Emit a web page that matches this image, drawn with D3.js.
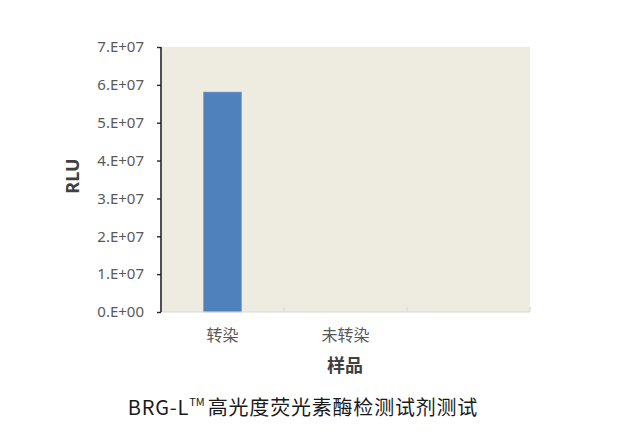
<!DOCTYPE html>
<html>
<head>
<meta charset="utf-8">
<script src="https://cdn.jsdelivr.net/npm/d3@7"></script>
<style>
  body { margin: 0; background: #fff; }
  text { font-family: "Noto Sans CJK SC", "Noto Sans", sans-serif; }
</style>
</head>
<body>
<svg id="chart"></svg>
<script>
let width = 618,
  height = 438;

// Data
const categories = ["转染", "未转染", ""];
const values = [5.81e7, 0, 0];
const yTicks = [0, 1e7, 2e7, 3e7, 4e7, 5e7, 6e7, 7e7];
const yTickLabels = ["0.E+00", "1.E+07", "2.E+07", "3.E+07", "4.E+07", "5.E+07", "6.E+07", "7.E+07"];

const margin = { left: 161, right: 88, top: 47, bottom: 126 };
const innerW = width - margin.left - margin.right;
const innerH = height - margin.top - margin.bottom;

let svg = d3.select("#chart").attr("width", width).attr("height", height);
let g = svg.append("g").attr("transform", `translate(${margin.left},${margin.top})`);

// Scales
const x = d3.scaleBand().domain(categories.map((d, i) => i)).range([0, innerW]).padding(0);
const y = d3.scaleLinear().domain([0, 7e7]).range([innerH, 0]);

// Plot background
g.append("rect")
  .attr("width", innerW)
  .attr("height", innerH)
  .attr("fill", "#eeebe0");

// Bars
g.selectAll(".bar")
  .data(values)
  .enter()
  .append("rect")
  .attr("class", "bar")
  .attr("x", (d, i) => x(i) + x.bandwidth() * 0.345)
  .attr("width", x.bandwidth() * 0.31)
  .attr("y", (d) => y(d))
  .attr("height", (d) => innerH - y(d))
  .attr("fill", (d) => (d > 0 ? "#4f81bd" : "none"))
  .attr("stroke", (d) => (d > 0 ? "#7ea3d1" : "none"))
  .attr("stroke-width", 0.6);

// X axis: light line with tick marks at band edges
let xAxis = g.append("g").attr("transform", `translate(0,${innerH})`);
xAxis.append("line")
  .attr("x1", 0).attr("x2", innerW)
  .attr("stroke", "#d9d9d9").attr("stroke-width", 1.2);
xAxis.selectAll(".xtick")
  .data(categories)
  .enter()
  .append("line")
  .attr("x1", (d, i) => x(i) + x.bandwidth())
  .attr("x2", (d, i) => x(i) + x.bandwidth())
  .attr("y1", 0).attr("y2", -5)
  .attr("stroke", "#d9d9d9").attr("stroke-width", 1.2);
xAxis.selectAll(".xlabel")
  .data(categories)
  .enter()
  .append("text")
  .attr("x", (d, i) => x(i) + x.bandwidth() / 2)
  .attr("y", 29)
  .attr("text-anchor", "middle")
  .attr("fill", "#595959")
  .style("font-size", "16px")
  .text((d) => d);

// Y axis
let yAxis = g.append("g")
  .call(d3.axisLeft(y).tickValues(yTicks).tickFormat((d, i) => yTickLabels[i]).tickSize(4).tickPadding(13));
yAxis.select(".domain").attr("stroke", "#262626").attr("stroke-width", 1.6).attr("d", `M0,0V${innerH}`);
yAxis.selectAll(".tick line").attr("stroke", "#262626").attr("stroke-width", 1.4);
yAxis.selectAll(".tick text")
  .attr("fill", "#595959")
  .style("font-family", "'Noto Sans', sans-serif")
  .style("font-size", "15px");

// Axis titles
svg.append("text")
  .attr("transform", `translate(79,176) rotate(-90)`)
  .attr("text-anchor", "middle")
  .attr("fill", "#404040")
  .style("font-weight", "bold")
  .style("font-family", "'Noto Sans', sans-serif")
  .style("font-size", "18px")
  .text("RLU");

svg.append("text")
  .attr("x", 345)
  .attr("y", 372)
  .attr("text-anchor", "middle")
  .attr("fill", "#404040")
  .style("font-weight", "bold")
  .style("font-size", "18px")
  .text("样品");

// Caption
let caption = svg.append("text")
  .attr("x", 303)
  .attr("y", 415)
  .attr("text-anchor", "middle")
  .attr("fill", "#1a1a1a")
  .style("font-size", "20px")
  .style("letter-spacing", "0.8px");
caption.append("tspan").text("BRG-L");
caption.append("tspan").attr("dy", -9).style("font-size", "11px").style("letter-spacing", "0px").text("TM");
caption.append("tspan").attr("dy", 9).attr("dx", 3).text("高光度荧光素酶检测试剂测试");
</script>
</body>
</html>
